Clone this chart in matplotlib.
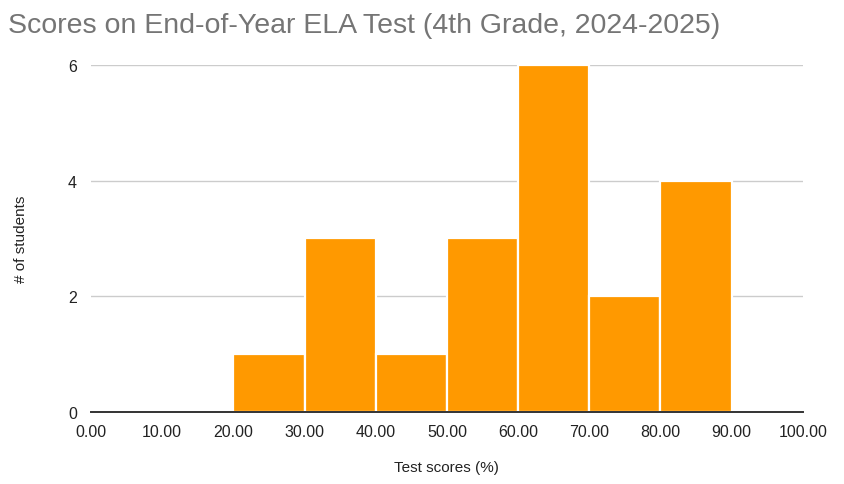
import matplotlib.pyplot as plt

plt.rcParams["font.family"] = ["Liberation Sans", "DejaVu Sans"]

# histogram bins (test score %) and counts
bin_edges = [20, 30, 40, 50, 60, 70, 80, 90]
counts = [1, 3, 1, 3, 6, 2, 4]
x_ticks = [0, 10, 20, 30, 40, 50, 60, 70, 80, 90, 100]
x_tick_labels = [f"{v:.2f}" for v in x_ticks]
y_ticks = [0, 2, 4, 6]

fig = plt.figure(figsize=(8.45, 4.85), dpi=100)
ax = fig.add_axes([0.1077, 0.1485, 0.8423, 0.7154])

lefts = bin_edges[:-1]
widths = [b - a for a, b in zip(bin_edges[:-1], bin_edges[1:])]
ax.bar(lefts, counts, width=widths, align="edge", color="#ff9900",
       edgecolor="white", linewidth=1.6, zorder=3)

ax.set_xlim(0, 100)
ax.set_ylim(0, 6)
ax.set_xticks(x_ticks)
ax.set_xticklabels(x_tick_labels)
ax.set_yticks(y_ticks)

ax.grid(axis="y", color="#cccccc", linewidth=1, zorder=0)
ax.grid(axis="x", visible=False)
for side in ["top", "right", "left"]:
    ax.spines[side].set_visible(False)
ax.spines["bottom"].set_color("#333333")
ax.spines["bottom"].set_linewidth(1.4)
ax.spines["bottom"].set_zorder(4)

ax.tick_params(axis="both", length=0, labelsize=11.5, colors="#222222")
ax.tick_params(axis="x", pad=9)
ax.tick_params(axis="y", pad=10)

ax.set_xlabel("Test scores (%)", fontsize=11, color="#222222", labelpad=15)
ax.set_ylabel("# of students", fontsize=11, color="#222222", labelpad=29)

fig.text(0.0095, 0.932, "Scores on End-of-Year ELA Test (4th Grade, 2024-2025)",
         fontsize=20.5, color="#757575", ha="left", va="baseline")

fig.savefig("out.png", dpi=100)
plt.close(fig)
